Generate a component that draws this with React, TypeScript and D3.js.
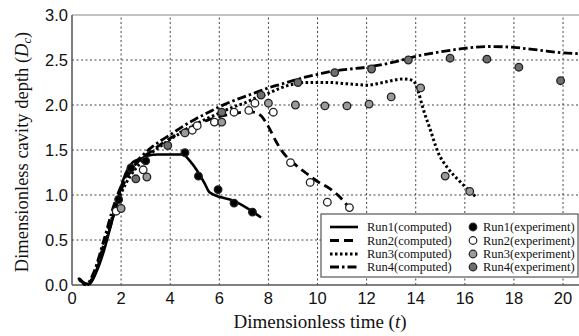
import React from 'react';
import * as d3 from 'd3';

// computed curves [t, Dc]
const run1Computed: [number, number][] = [
  [0.25, 0.08], [0.5, 0.02], [0.7, 0.01], [1.0, 0.15], [1.3, 0.38], [1.6, 0.68], [1.9, 0.98],
  [2.1, 1.18], [2.3, 1.3], [2.5, 1.37], [2.8, 1.4], [3.1, 1.44], [3.5, 1.45], [4.0, 1.45],
  [4.5, 1.45], [4.8, 1.38], [5.1, 1.27], [5.4, 1.13], [5.6, 1.03], [6.0, 0.98], [6.55, 0.94],
  [7.1, 0.86], [7.7, 0.75],
];
const run2Computed: [number, number][] = [
  [0.3, 0.07], [0.6, 0.0], [0.9, 0.1], [1.3, 0.42], [1.7, 0.78], [2.0, 1.05], [2.4, 1.27],
  [2.8, 1.4], [3.2, 1.48], [3.6, 1.56], [4.0, 1.63], [4.5, 1.71], [5.0, 1.78], [5.5, 1.83],
  [6.0, 1.87], [6.5, 1.9], [7.0, 1.92], [7.4, 1.92], [7.7, 1.88], [8.0, 1.76], [8.3, 1.6],
  [8.6, 1.47], [9.0, 1.36], [9.5, 1.25], [10.0, 1.15], [10.5, 1.07], [10.9, 0.98], [11.25, 0.87],
];
const run3Computed: [number, number][] = [
  [0.3, 0.06], [0.6, 0.0], [0.9, 0.12], [1.3, 0.45], [1.7, 0.8], [2.0, 1.02], [2.4, 1.22],
  [2.8, 1.36], [3.2, 1.46], [3.6, 1.54], [4.0, 1.62], [4.5, 1.7], [5.0, 1.78], [5.5, 1.85],
  [6.0, 1.91], [6.5, 1.97], [7.0, 2.02], [7.5, 2.08], [8.0, 2.13], [8.5, 2.19], [9.0, 2.23],
  [9.5, 2.25], [10.0, 2.25], [10.5, 2.25], [11.0, 2.24], [11.5, 2.23], [12.0, 2.22],
  [12.5, 2.24], [13.0, 2.27], [13.5, 2.29], [13.9, 2.27], [14.1, 2.15], [14.3, 1.96],
  [14.6, 1.72], [14.9, 1.48], [15.3, 1.3], [15.8, 1.15], [16.45, 0.98],
];
const run4Computed: [number, number][] = [
  [0.3, 0.07], [0.6, 0.01], [0.9, 0.15], [1.3, 0.5], [1.7, 0.88], [2.0, 1.1], [2.4, 1.3],
  [2.8, 1.42], [3.2, 1.52], [3.6, 1.6], [4.0, 1.67], [4.5, 1.76], [5.0, 1.84], [5.5, 1.91],
  [6.0, 1.98], [6.5, 2.04], [7.0, 2.09], [7.5, 2.14], [8.0, 2.19], [8.5, 2.23], [9.0, 2.27],
  [9.5, 2.31], [10.0, 2.34], [10.5, 2.37], [11.0, 2.39], [12.0, 2.42], [13.0, 2.47],
  [14.0, 2.54], [15.0, 2.59], [16.0, 2.63], [17.0, 2.65], [18.0, 2.64], [19.0, 2.61],
  [20.0, 2.58], [20.7, 2.57],
];

// experiment points [t, Dc]
const run1Exp: [number, number][] = [
  [1.9, 0.95], [2.4, 1.3], [3.0, 1.38], [4.6, 1.47], [5.15, 1.21], [5.95, 1.06], [6.6, 0.91], [7.35, 0.81],
];
const run2Exp: [number, number][] = [
  [1.8, 0.82], [2.9, 1.28], [4.9, 1.72], [5.1, 1.77], [5.8, 1.81], [6.6, 1.92], [7.2, 1.94],
  [7.45, 2.02], [8.2, 1.92], [8.9, 1.36], [9.7, 1.14], [10.4, 0.92], [11.3, 0.86],
];
const run3Exp: [number, number][] = [
  [2.0, 0.85], [3.05, 1.2], [4.6, 1.69], [6.1, 1.81], [8.0, 2.02], [9.1, 2.0], [10.3, 1.99],
  [11.2, 1.99], [12.1, 2.01], [13.0, 2.09], [14.2, 2.19], [15.2, 1.21], [16.2, 1.04],
];
const run4Exp: [number, number][] = [
  [2.6, 1.18], [3.9, 1.55], [6.1, 1.92], [7.7, 2.11], [9.2, 2.25], [10.7, 2.36], [12.2, 2.4],
  [13.7, 2.5], [15.4, 2.52], [16.9, 2.51], [18.2, 2.42], [19.9, 2.27],
];

const xTicks = [0, 2, 4, 6, 8, 10, 12, 14, 16, 18, 20];
const yTicks = [0, 0.5, 1, 1.5, 2, 2.5, 3];
const lineLabels = ['Run1(computed)', 'Run2(computed)', 'Run3(computed)', 'Run4(computed)'];
const expLabels = ['Run1(experiment)', 'Run2(experiment)', 'Run3(experiment)', 'Run4(experiment)'];

const width = 579;
const height = 336;
const margin = { top: 15, right: 0, bottom: 51, left: 72 };

const lineStyles = [
  { dash: null, w: 2.6 },
  { dash: '9,5', w: 2.8 },
  { dash: '2.5,2.5', w: 3 },
  { dash: '9,3,2.5,3', w: 2.8 },
];
const markerFills = ['#000', '#fff', '#9a9a9a', '#6e6e6e'];

export default function App() {
  const x = d3.scaleLinear().domain([0, 20.65]).range([margin.left, width - margin.right]);
  const y = d3.scaleLinear().domain([0, 3]).range([height - margin.bottom, margin.top]);

  const line = d3
    .line<[number, number]>()
    .x((d) => x(d[0]))
    .y((d) => y(d[1]))
    .curve(d3.curveMonotoneX);

  const computed = [run1Computed, run2Computed, run3Computed, run4Computed];
  const experiments = [run1Exp, run2Exp, run3Exp, run4Exp];

  const sans = "'Liberation Sans', Arial, sans-serif";
  const serif = "'Liberation Serif', 'Times New Roman', 'DejaVu Serif', serif";

  const lx0 = 321;
  const ly0 = 214;
  const rows = [227, 240.5, 254, 267];

  return (
    <svg
      width={width}
      height={height}
      style={{ position: 'absolute', left: 0, top: 0, background: '#fff' }}
    >
      {/* grid */}
      {xTicks.filter((t) => t > 0).map((t) => (
        <line key={'gx' + t} x1={x(t)} x2={x(t)} y1={y(0)} y2={y(3)}
          stroke="#444" strokeWidth={1} strokeDasharray="2,2.5" />
      ))}
      {yTicks.filter((t) => t > 0 && t < 3).map((t) => (
        <line key={'gy' + t} x1={x(0)} x2={width} y1={y(t)} y2={y(t)}
          stroke="#444" strokeWidth={1} strokeDasharray="2,2.5" />
      ))}

      {/* frame */}
      <line x1={x(0)} x2={width} y1={y(3)} y2={y(3)} stroke="#888" strokeWidth={1.2} />
      <line x1={x(0)} x2={width} y1={y(0)} y2={y(0)} stroke="#555" strokeWidth={1.5} />
      <line x1={x(0)} x2={x(0)} y1={y(0)} y2={y(3)} stroke="#555" strokeWidth={1.5} />

      {/* ticks */}
      {xTicks.map((t) => (
        <text key={'tx' + t} x={x(t)} y={y(0) + 19} textAnchor="middle"
          style={{ fontFamily: sans }} fontSize={16.5} fill="#111">{t}</text>
      ))}
      {yTicks.map((t) => (
        <text key={'ty' + t} x={x(0) - 4} y={y(t) + 6} textAnchor="end"
          style={{ fontFamily: sans }} fontSize={16.5} fill="#111">{t.toFixed(1)}</text>
      ))}

      {/* axis titles */}
      <text x={320} y={328} textAnchor="middle" style={{ fontFamily: serif }} fontSize={19} fill="#111">
        Dimensionless time (<tspan fontStyle="italic">t</tspan>)
      </text>
      <text transform={`translate(28,${y(1.5) + 2}) rotate(-90)`} textAnchor="middle"
        style={{ fontFamily: serif }} fontSize={18.5} fill="#111">
        Dimensionless cavity depth (<tspan fontStyle="italic">D</tspan>
        <tspan fontStyle="italic" fontSize={12.5} dy={3}>c</tspan>
        <tspan dy={-3}>)</tspan>
      </text>

      {/* computed curves */}
      {computed.map((data, i) => (
        <path key={'c' + i} d={line(data) || ''} fill="none" stroke="#000"
          strokeWidth={lineStyles[i].w}
          strokeDasharray={lineStyles[i].dash || undefined} />
      ))}

      {/* experiment points */}
      {experiments.map((data, i) =>
        data.map((d, j) => (
          <circle key={'e' + i + '-' + j} cx={x(d[0])} cy={y(d[1])} r={3.8}
            fill={markerFills[i]} stroke="#222" strokeWidth={1.3} />
        ))
      )}

      {/* legend */}
      <rect x={lx0} y={ly0} width={width - lx0 - 1} height={63} fill="#fff" stroke="#555" strokeWidth={1.2} />
      {lineLabels.map((lab, i) => (
        <g key={'lc' + i}>
          <line x1={330} x2={358} y1={rows[i]} y2={rows[i]} stroke="#000"
            strokeWidth={lineStyles[i].w}
            strokeDasharray={lineStyles[i].dash || undefined} />
          <text x={367} y={rows[i] + 4} style={{ fontFamily: serif }} fontSize={12.5} fill="#111">{lab}</text>
        </g>
      ))}
      {expLabels.map((lab, i) => (
        <g key={'le' + i}>
          <circle cx={473} cy={rows[i]} r={3.8} fill={markerFills[i]} stroke="#222" strokeWidth={1.2} />
          <text x={483} y={rows[i] + 4} style={{ fontFamily: serif }} fontSize={12.5} fill="#111">{lab}</text>
        </g>
      ))}
    </svg>
  );
}
